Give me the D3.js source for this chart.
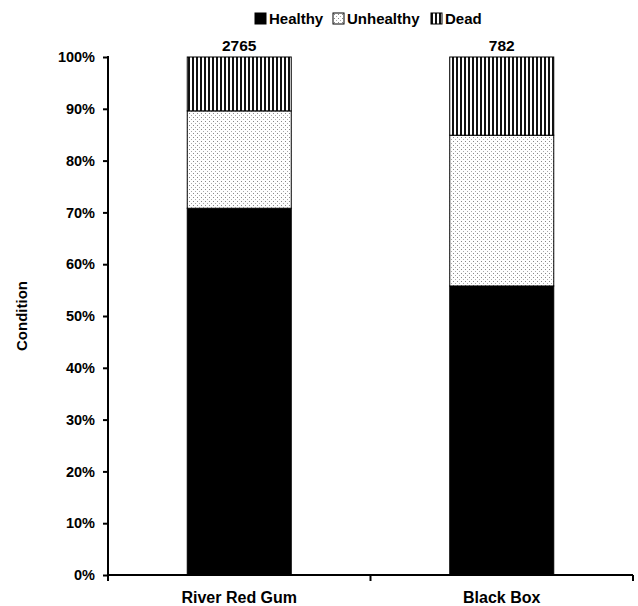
<!DOCTYPE html>
<html><head><meta charset="utf-8">
<script src="https://cdn.jsdelivr.net/npm/d3@7"></script>
<style>body{margin:0;background:#fff}svg{display:block}text{font-family:"Liberation Sans",Arial,sans-serif;font-weight:bold}</style>
</head><body><svg id="c" width="638" height="606"></svg>
<script>
const categories = ["River Red Gum", "Black Box"];
const seriesNames = ["Healthy", "Unhealthy", "Dead"];
const healthy = [70.8, 55.8];
const unhealthy = [18.8, 29.1];
const dead = [10.4, 15.1];
const totals = ["2765", "782"];
const yTicks = [0,10,20,30,40,50,60,70,80,90,100];

(function(){
const svg = d3.select("#c");
const defs = svg.append("defs");
const dots = defs.append("pattern").attr("id","dots").attr("patternUnits","userSpaceOnUse").attr("width",4).attr("height",4);
dots.append("rect").attr("width",4).attr("height",4).attr("fill","#fff");
dots.append("rect").attr("x",1).attr("y",1).attr("width",1).attr("height",1).attr("fill","#888");
dots.append("rect").attr("x",3).attr("y",3).attr("width",1).attr("height",1).attr("fill","#aaa");
const stripes = defs.append("pattern").attr("id","stripes").attr("patternUnits","userSpaceOnUse").attr("width",4).attr("height",4);
stripes.append("rect").attr("width",4).attr("height",4).attr("fill","#fff");
stripes.append("rect").attr("x",0).attr("width",2).attr("height",4).attr("fill","#111");
const fills = ["#000","url(#dots)","url(#stripes)"];

const mLeft = 108, mRight = 633, mTop = 57, mBottom = 575;
const x = d3.scaleBand().domain(categories).range([mLeft,mRight]).paddingInner(0).paddingOuter(0);
const y = d3.scaleLinear().domain([0,100]).range([mBottom,mTop]);
const barW = 104;

const rows = categories.map((c,i)=>({cat:c, Healthy:healthy[i], Unhealthy:unhealthy[i], Dead:dead[i]}));
const stack = d3.stack().keys(seriesNames)(rows);

stack.forEach((s,si)=>{
  svg.append("g").selectAll("rect").data(s).join("rect")
    .attr("x",d=>x(d.data.cat)+x.bandwidth()/2-barW/2)
    .attr("width",barW)
    .attr("y",d=>y(Math.min(100,d[1])))
    .attr("height",d=>y(d[0])-y(Math.min(100,d[1])))
    .attr("fill",fills[si]).attr("stroke","#000").attr("stroke-width",1);
});

svg.append("g").selectAll("text").data(categories).join("text")
  .attr("x",d=>x(d)+x.bandwidth()/2).attr("y",mTop-6).attr("text-anchor","middle")
  .attr("font-size",15.5).text((d,i)=>totals[i]);

const ya = svg.append("g").attr("transform",`translate(${mLeft},0)`)
  .call(d3.axisLeft(y).tickValues(yTicks).tickFormat(d=>d+"%").tickSize(5).tickPadding(8));
ya.select(".domain").attr("stroke","#000").attr("stroke-width",2).attr("d",`M0,${mTop-1}V${mBottom}`);
ya.selectAll(".tick line").attr("stroke-width",2);
ya.selectAll("text").attr("font-size",14.5).attr("font-family","Liberation Sans, Arial, sans-serif").attr("font-weight","bold").attr("fill","#000");

const xa = svg.append("g").attr("transform",`translate(0,${mBottom})`)
  .call(d3.axisBottom(x).tickSize(0).tickPadding(17));
xa.select(".domain").attr("stroke","#000").attr("stroke-width",2).attr("d",`M${mLeft},0H${mRight}`);
xa.selectAll("text").attr("font-size",16).attr("font-family","Liberation Sans, Arial, sans-serif").attr("font-weight","bold").attr("fill","#000");
const xt = [mLeft, mLeft + x.bandwidth(), mRight];
svg.append("g").selectAll("line").data(xt).join("line")
  .attr("x1",d=>d).attr("x2",d=>d).attr("y1",mBottom).attr("y2",mBottom+6)
  .attr("stroke","#000").attr("stroke-width",2);

svg.append("text").attr("transform","translate(27,316) rotate(-90)").attr("text-anchor","middle")
  .attr("font-size",15).text("Condition");

const lg = svg.append("g").attr("transform","translate(255,13)");
const legX = [0, 78, 176];
seriesNames.forEach((n,i)=>{
  const g = lg.append("g").attr("transform",`translate(${legX[i]},0)`);
  g.append("rect").attr("width",11).attr("height",11).attr("fill",fills[i]).attr("stroke","#000").attr("stroke-width",1);
  g.append("text").attr("x",14).attr("y",11).attr("font-size",15).text(n);
});
})();
</script></body></html>
